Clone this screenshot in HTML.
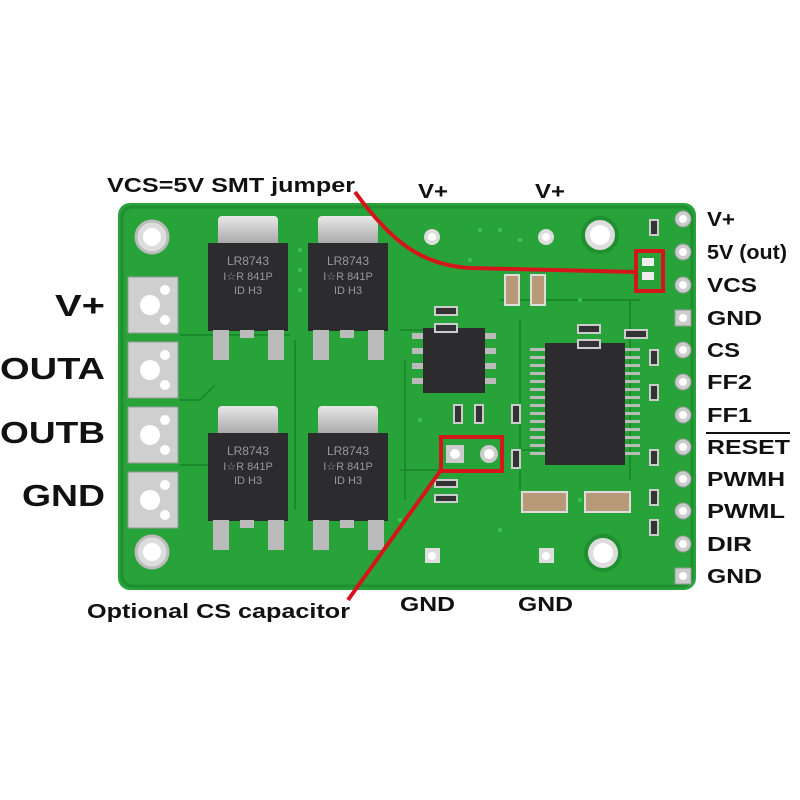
<!DOCTYPE html>
<html><head><style>
body{margin:0;background:#fff;}
svg{display:block}
text{font-family:"Liberation Sans",sans-serif;font-weight:bold;fill:#111}
</style></head><body>
<svg width="800" height="800" viewBox="0 0 800 800">
<defs>
<linearGradient id="tab" x1="0" y1="0" x2="0" y2="1"><stop offset="0" stop-color="#e8e8e8"/><stop offset="1" stop-color="#9a9a9a"/></linearGradient>
</defs>
<rect x="118" y="203" width="578" height="387" rx="12" fill="#27a33a"/>
<rect x="122" y="207" width="570" height="379" rx="10" fill="none" stroke="#1f8f30" stroke-width="3"/>
<g stroke="#1b8a2c" stroke-width="2" fill="none">
<path d="M180 335 H290 M180 400 H200 L215 385 M180 465 H210 M295 340 V510 M400 330 H480 M405 360 V500 M500 300 H640 M520 320 V490 M510 450 H540 M630 300 V480 M400 470 H440"/>
</g>
<g fill="#3cc24e">
<circle cx="300" cy="250" r="2"/><circle cx="300" cy="270" r="2"/><circle cx="300" cy="290" r="2"/><circle cx="310" cy="250" r="2"/><circle cx="310" cy="270" r="2"/>
<circle cx="480" cy="230" r="2"/><circle cx="500" cy="230" r="2"/><circle cx="520" cy="240" r="2"/><circle cx="470" cy="260" r="2"/><circle cx="580" cy="300" r="2"/>
<circle cx="420" cy="420" r="2"/><circle cx="400" cy="520" r="2"/><circle cx="500" cy="530" r="2"/><circle cx="580" cy="500" r="2"/>
</g>
<g>
<circle cx="152" cy="237" r="16" fill="#ddd" stroke="#bbb" stroke-width="3"/><circle cx="152" cy="237" r="9" fill="#fff"/>
<circle cx="600" cy="235" r="17" fill="#ddd" stroke="#1f8f30" stroke-width="4"/><circle cx="600" cy="235" r="10" fill="#fff"/>
<circle cx="152" cy="552" r="16" fill="#ddd" stroke="#bbb" stroke-width="3"/><circle cx="152" cy="552" r="9" fill="#fff"/>
<circle cx="603" cy="553" r="17" fill="#ddd" stroke="#1f8f30" stroke-width="4"/><circle cx="603" cy="553" r="10" fill="#fff"/>
<circle cx="432" cy="237" r="8" fill="#ddd"/><circle cx="432" cy="237" r="4" fill="#fff"/>
<circle cx="546" cy="237" r="8" fill="#ddd"/><circle cx="546" cy="237" r="4" fill="#fff"/>
<rect x="425" y="548" width="15" height="15" fill="#ddd"/><circle cx="432" cy="556" r="4" fill="#fff"/>
<rect x="539" y="548" width="15" height="15" fill="#ddd"/><circle cx="546" cy="556" r="4" fill="#fff"/>
</g>
<g fill="#cfcfcf" stroke="#999">
<rect x="128" y="277" width="50" height="56"/><rect x="128" y="342" width="50" height="56"/><rect x="128" y="407" width="50" height="56"/><rect x="128" y="472" width="50" height="56"/>
</g>
<g fill="#fff">
<circle cx="150" cy="305" r="10"/><circle cx="165" cy="290" r="5"/><circle cx="165" cy="320" r="5"/>
<circle cx="150" cy="370" r="10"/><circle cx="165" cy="355" r="5"/><circle cx="165" cy="385" r="5"/>
<circle cx="150" cy="435" r="10"/><circle cx="165" cy="420" r="5"/><circle cx="165" cy="450" r="5"/>
<circle cx="150" cy="500" r="10"/><circle cx="165" cy="485" r="5"/><circle cx="165" cy="515" r="5"/>
</g>
<g id="m1">
<rect x="218" y="216" width="60" height="34" rx="4" fill="url(#tab)"/>
<rect x="208" y="243" width="80" height="88" fill="#2c2c2e"/>
<rect x="213" y="330" width="16" height="30" fill="#bbb"/><rect x="268" y="330" width="16" height="30" fill="#bbb"/>
<rect x="240" y="330" width="14" height="8" fill="#bbb"/>
<text x="248" y="265" font-size="12" text-anchor="middle" style="fill:#999;font-weight:normal">LR8743</text>
<text x="248" y="280" font-size="11" text-anchor="middle" style="fill:#999;font-weight:normal">I☆R 841P</text>
<text x="248" y="294" font-size="11" text-anchor="middle" style="fill:#999;font-weight:normal">ID   H3</text>
</g>
<use href="#m1" x="100" y="0"/>
<use href="#m1" x="0" y="190"/>
<use href="#m1" x="100" y="190"/>
<rect x="423" y="328" width="62" height="65" fill="#2c2c2e"/>
<g fill="#bbb"><rect x="412" y="333" width="11" height="6"/><rect x="412" y="348" width="11" height="6"/><rect x="412" y="363" width="11" height="6"/><rect x="412" y="378" width="11" height="6"/>
<rect x="485" y="333" width="11" height="6"/><rect x="485" y="348" width="11" height="6"/><rect x="485" y="363" width="11" height="6"/><rect x="485" y="378" width="11" height="6"/></g>
<rect x="545" y="343" width="80" height="122" fill="#2c2c2e"/>
<g fill="#bbb">
<rect x="530" y="348" width="15" height="3"/><rect x="530" y="356" width="15" height="3"/><rect x="530" y="364" width="15" height="3"/><rect x="530" y="372" width="15" height="3"/><rect x="530" y="380" width="15" height="3"/><rect x="530" y="388" width="15" height="3"/><rect x="530" y="396" width="15" height="3"/><rect x="530" y="404" width="15" height="3"/><rect x="530" y="412" width="15" height="3"/><rect x="530" y="420" width="15" height="3"/><rect x="530" y="428" width="15" height="3"/><rect x="530" y="436" width="15" height="3"/><rect x="530" y="444" width="15" height="3"/><rect x="530" y="452" width="15" height="3"/>
<rect x="625" y="348" width="15" height="3"/><rect x="625" y="356" width="15" height="3"/><rect x="625" y="364" width="15" height="3"/><rect x="625" y="372" width="15" height="3"/><rect x="625" y="380" width="15" height="3"/><rect x="625" y="388" width="15" height="3"/><rect x="625" y="396" width="15" height="3"/><rect x="625" y="404" width="15" height="3"/><rect x="625" y="412" width="15" height="3"/><rect x="625" y="420" width="15" height="3"/><rect x="625" y="428" width="15" height="3"/><rect x="625" y="436" width="15" height="3"/><rect x="625" y="444" width="15" height="3"/><rect x="625" y="452" width="15" height="3"/>
</g>
<g fill="#b89a78" stroke="#ddd" stroke-width="2">
<rect x="505" y="275" width="14" height="30"/><rect x="531" y="275" width="14" height="30"/>
<rect x="522" y="492" width="45" height="20"/><rect x="585" y="492" width="45" height="20"/>
</g>
<g fill="#333" stroke="#ccc" stroke-width="2">
<rect x="435" y="307" width="22" height="8"/><rect x="435" y="324" width="22" height="8"/>
<rect x="578" y="325" width="22" height="8"/><rect x="578" y="340" width="22" height="8"/><rect x="625" y="330" width="22" height="8"/>
<rect x="435" y="480" width="22" height="7"/><rect x="435" y="495" width="22" height="7"/>
<rect x="454" y="405" width="8" height="18"/><rect x="475" y="405" width="8" height="18"/>
<rect x="512" y="405" width="8" height="18"/><rect x="512" y="450" width="8" height="18"/>
<rect x="650" y="220" width="8" height="15"/><rect x="650" y="350" width="8" height="15"/><rect x="650" y="385" width="8" height="15"/><rect x="650" y="450" width="8" height="15"/><rect x="650" y="490" width="8" height="15"/><rect x="650" y="520" width="8" height="15"/>
</g>
<rect x="446" y="445" width="18" height="18" fill="#ccc"/><circle cx="455" cy="454" r="5" fill="#fff"/>
<circle cx="489" cy="454" r="9" fill="#ccc"/><circle cx="489" cy="454" r="5" fill="#fff"/>
<rect x="642" y="258" width="12" height="8" fill="#eee"/><rect x="642" y="272" width="12" height="8" fill="#eee"/>
<g fill="#ccc" stroke="#999">
<circle cx="683" cy="219" r="8"/><circle cx="683" cy="252" r="8"/><circle cx="683" cy="285" r="8"/>
<rect x="675" y="310" width="16" height="16"/>
<circle cx="683" cy="350" r="8"/><circle cx="683" cy="382" r="8"/><circle cx="683" cy="415" r="8"/><circle cx="683" cy="447" r="8"/><circle cx="683" cy="479" r="8"/><circle cx="683" cy="511" r="8"/><circle cx="683" cy="544" r="8"/>
<rect x="675" y="568" width="16" height="16"/>
</g>
<g fill="#fff">
<circle cx="683" cy="219" r="4"/><circle cx="683" cy="252" r="4"/><circle cx="683" cy="285" r="4"/><circle cx="683" cy="318" r="4"/><circle cx="683" cy="350" r="4"/><circle cx="683" cy="382" r="4"/><circle cx="683" cy="415" r="4"/><circle cx="683" cy="447" r="4"/><circle cx="683" cy="479" r="4"/><circle cx="683" cy="511" r="4"/><circle cx="683" cy="544" r="4"/><circle cx="683" cy="576" r="4"/>
</g>
<g stroke="#d4161c" stroke-width="4" fill="none">
<rect x="636" y="251" width="27" height="40"/>
<rect x="441" y="437" width="61" height="34"/>
<path d="M355 192 C 390 240, 420 265, 470 268 L 636 272"/>
<path d="M441 470 L 348 600"/>
</g>
<text x="107" y="192" font-size="20" textLength="248" lengthAdjust="spacingAndGlyphs">VCS=5V SMT jumper</text>
<text x="418" y="198" font-size="20" textLength="30" lengthAdjust="spacingAndGlyphs">V+</text>
<text x="535" y="198" font-size="20" textLength="30" lengthAdjust="spacingAndGlyphs">V+</text>
<text x="87" y="618" font-size="20" textLength="263" lengthAdjust="spacingAndGlyphs">Optional CS capacitor</text>
<text x="400" y="611" font-size="20" textLength="55" lengthAdjust="spacingAndGlyphs">GND</text>
<text x="518" y="611" font-size="20" textLength="55" lengthAdjust="spacingAndGlyphs">GND</text>
<g font-size="31">
<text x="55" y="316" textLength="50" lengthAdjust="spacingAndGlyphs">V+</text>
<text x="0" y="379" textLength="105" lengthAdjust="spacingAndGlyphs">OUTA</text>
<text x="0" y="443" textLength="105" lengthAdjust="spacingAndGlyphs">OUTB</text>
<text x="22" y="506" textLength="83" lengthAdjust="spacingAndGlyphs">GND</text>
</g>
<g font-size="20">
<text x="707" y="226" textLength="28" lengthAdjust="spacingAndGlyphs">V+</text>
<text x="707" y="259" textLength="80" lengthAdjust="spacingAndGlyphs">5V (out)</text>
<text x="707" y="292" textLength="50" lengthAdjust="spacingAndGlyphs">VCS</text>
<text x="707" y="325" textLength="55" lengthAdjust="spacingAndGlyphs">GND</text>
<text x="707" y="357" textLength="33" lengthAdjust="spacingAndGlyphs">CS</text>
<text x="707" y="389" textLength="45" lengthAdjust="spacingAndGlyphs">FF2</text>
<text x="707" y="422" textLength="45" lengthAdjust="spacingAndGlyphs">FF1</text>
<text x="707" y="454" textLength="83" lengthAdjust="spacingAndGlyphs">RESET</text>
<text x="707" y="486" textLength="78" lengthAdjust="spacingAndGlyphs">PWMH</text>
<text x="707" y="518" textLength="78" lengthAdjust="spacingAndGlyphs">PWML</text>
<text x="707" y="551" textLength="45" lengthAdjust="spacingAndGlyphs">DIR</text>
<text x="707" y="583" textLength="55" lengthAdjust="spacingAndGlyphs">GND</text>
</g>
<line x1="706" y1="433" x2="790" y2="433" stroke="#111" stroke-width="2"/>
</svg>
</body></html>
